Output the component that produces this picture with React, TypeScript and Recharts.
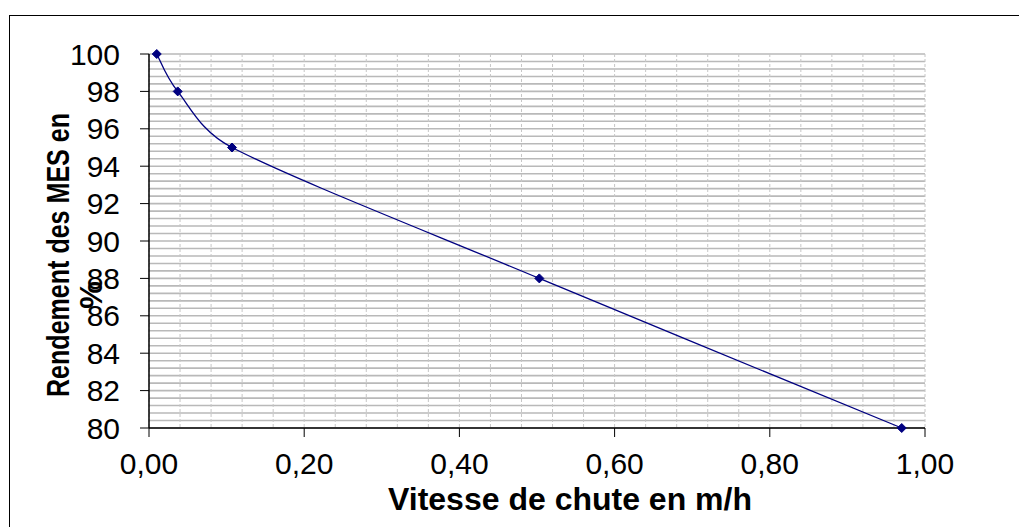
import React from "react";
import {
  LineChart,
  Line,
  XAxis,
  YAxis,
  CartesianGrid,
} from "recharts";

// vitesse de chute (m/h) / rendement MES (%)
const vitesses = [0.01, 0.037, 0.107, 0.503, 0.97];
const rendements = [100, 98, 95, 88, 80];

const xTicks = [0, 0.2, 0.4, 0.6, 0.8, 1.0];
const yTicks = [80, 82, 84, 86, 88, 90, 92, 94, 96, 98, 100];
const xDomain: [number, number] = [0, 1];
const yDomain: [number, number] = [80, 100];

// minor gridlines
const xGridTicks = Array.from({ length: 26 }, (_, i) => Math.round(i * 4) / 100);
const yGridTicks = Array.from({ length: 51 }, (_, i) => Math.round((80 + i * 0.4) * 10) / 10);

const data = vitesses.map((x, i) => ({ x, y: rendements[i] }));

const FONT = '"Liberation Sans", Arial, sans-serif';

const fmt = (v: number) => v.toFixed(2).replace(".", ",");

// rough imitation of Excel "smoothed line": catmull-rom tangents, handles limited per segment
function excelSmooth(context: any) {
  let pts: number[][] = [];
  return {
    areaStart() {},
    areaEnd() {},
    lineStart() {
      pts = [];
    },
    point(x: number, y: number) {
      pts.push([+x, +y]);
    },
    lineEnd() {
      const n = pts.length;
      if (!n) return;
      context.moveTo(pts[0][0], pts[0][1]);
      if (n === 1) return;
      const seg = (a: number[], b: number[]) => Math.hypot(b[0] - a[0], b[1] - a[1]);
      const tang: number[][] = pts.map((p, i) => {
        const a = pts[Math.max(0, i - 1)];
        const b = pts[Math.min(n - 1, i + 1)];
        return [(b[0] - a[0]) / 6, (b[1] - a[1]) / 6];
      });
      const handle = (i: number, dir: number, len: number) => {
        const t = tang[i];
        const tl = Math.hypot(t[0], t[1]) || 1;
        const k = Math.min(1, (len * 0.45) / tl);
        return [pts[i][0] + dir * t[0] * k, pts[i][1] + dir * t[1] * k];
      };
      for (let i = 0; i < n - 1; i++) {
        const len = seg(pts[i], pts[i + 1]);
        const c1 = handle(i, 1, len);
        const c2 = handle(i + 1, -1, len);
        context.bezierCurveTo(c1[0], c1[1], c2[0], c2[1], pts[i + 1][0], pts[i + 1][1]);
      }
    },
  };
}

// gridline positions from the plot offset and the axis domains
const hGrid = ({ offset }: any) =>
  yGridTicks.map(
    (v) => offset.top + ((yDomain[1] - v) / (yDomain[1] - yDomain[0])) * offset.height
  );
const vGrid = ({ offset }: any) =>
  xGridTicks.map(
    (v) => offset.left + ((v - xDomain[0]) / (xDomain[1] - xDomain[0])) * offset.width
  );

function Diamond(props: any) {
  const { cx, cy, index } = props;
  if (cx == null || cy == null) return null;
  const r = 4.5;
  return (
    <polygon
      key={`d-${index}`}
      points={`${cx},${cy - r} ${cx + r},${cy} ${cx},${cy + r} ${cx - r},${cy}`}
      fill="#000080"
      stroke="#000080"
    />
  );
}

export default function App() {
  return (
    <div
      style={{
        position: "absolute",
        left: 0,
        top: 0,
        width: 1019,
        height: 527,
        overflow: "hidden",
        background: "#fff",
      }}
    >
      <div
        style={{
          position: "absolute",
          left: 9,
          top: 15,
          width: 2000,
          height: 2000,
          borderLeft: "1px solid #000",
          borderTop: "1px solid #000",
        }}
      />
      <div style={{ position: "absolute", left: 0, top: 0 }}>
        <LineChart
          width={1019}
          height={527}
          data={data}
          margin={{ top: 54, right: 94, bottom: 59, left: 89 }}
        >
          <CartesianGrid
            xAxisId="main"
            yAxisId="main"
            vertical={false}
            horizontalCoordinatesGenerator={hGrid}
            stroke="#b9b9b9"
            strokeWidth={1.6}
          />
          <CartesianGrid
            xAxisId="main"
            yAxisId="main"
            horizontal={false}
            verticalCoordinatesGenerator={vGrid}
            stroke="#c6c6c6"
            strokeDasharray="3 2"
          />
          <XAxis
            xAxisId="top"
            orientation="top"
            type="number"
            dataKey="x"
            domain={xDomain}
            height={0}
            tick={false}
            tickLine={false}
            axisLine={{ stroke: "#707070", strokeWidth: 1.5 }}
          />
          <YAxis
            yAxisId="right"
            orientation="right"
            type="number"
            domain={yDomain}
            width={0}
            tick={false}
            tickLine={false}
            axisLine={{ stroke: "#000", strokeWidth: 1.2 }}
          />
          <XAxis
            xAxisId="main"
            type="number"
            dataKey="x"
            domain={xDomain}
            ticks={xTicks}
            interval={0}
            tickFormatter={fmt}
            height={40}
            tickSize={9}
            tickMargin={16}
            axisLine={{ stroke: "#000", strokeWidth: 1.5 }}
            tickLine={{ stroke: "#000" }}
            tick={{ fill: "#000", fontSize: 30, fontFamily: FONT }}
          />
          <YAxis
            yAxisId="main"
            type="number"
            domain={yDomain}
            ticks={yTicks}
            interval={0}
            width={60}
            tickSize={9}
            tickMargin={20}
            axisLine={{ stroke: "#000", strokeWidth: 1.5 }}
            tickLine={{ stroke: "#000" }}
            tick={{ fill: "#000", fontSize: 30, fontFamily: FONT }}
          />
          <Line
            xAxisId="main"
            yAxisId="main"
            type={excelSmooth as any}
            dataKey="y"
            stroke="#000080"
            strokeWidth={1.3}
            dot={Diamond}
            activeDot={false}
            isAnimationActive={false}
          />
        </LineChart>
      </div>
      <svg
        width={1019}
        height={527}
        style={{ position: "absolute", left: 0, top: 0, pointerEvents: "none" }}
      >
        <text
          transform="translate(69,255) rotate(-90)"
          textAnchor="middle"
          fontFamily={FONT}
          fontWeight="bold"
          fontSize={32}
          textLength={284}
          lengthAdjust="spacingAndGlyphs"
          fill="#000"
        >
          Rendement des MES en
        </text>
        <text
          transform="translate(102,295) rotate(-90)"
          textAnchor="middle"
          fontFamily={FONT}
          fontWeight="bold"
          fontSize={31}
          fill="#000"
        >
          %
        </text>
        <text
          x={570}
          y={510}
          textAnchor="middle"
          fontFamily={FONT}
          fontWeight="bold"
          fontSize={32}
          fill="#000"
        >
          Vitesse de chute en m/h
        </text>
      </svg>
    </div>
  );
}
